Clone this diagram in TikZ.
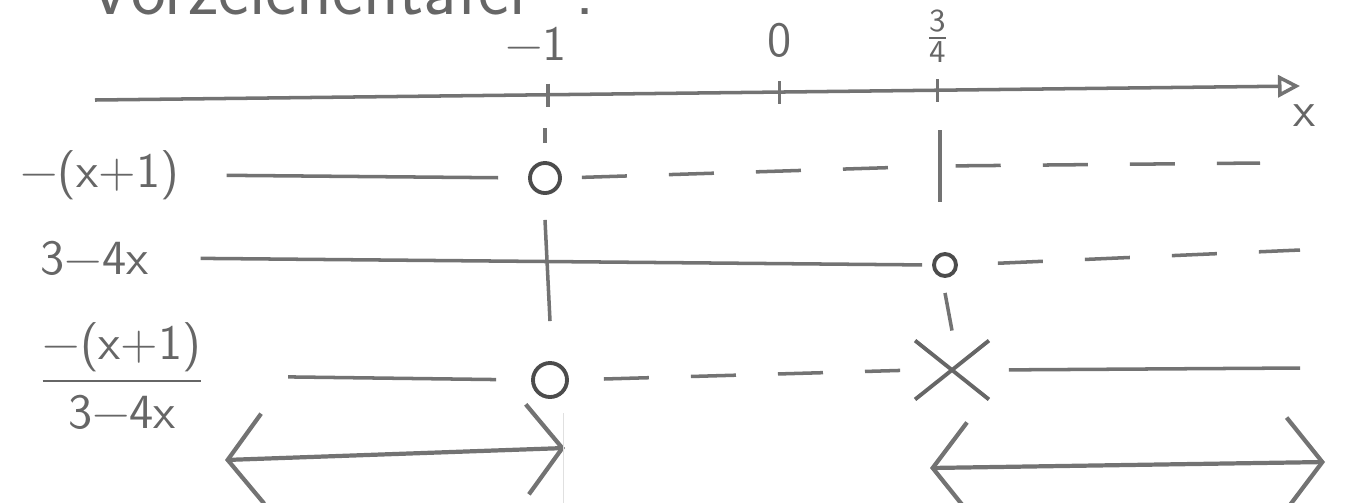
\documentclass[tikz,border=0pt]{standalone}
\usepackage{fontspec}
\usepackage{amsmath}
\usepackage{tikz}
\usetikzlibrary{arrows.meta,shapes.misc,positioning}

\begin{document}
\begin{tikzpicture}[x=0.01cm, y=-0.01cm, every node/.style={font=\sffamily\fontsize{14}{17}\selectfont, text=black!60}]

    % pencil-like styles
    \tikzset{
        pencil/.style={draw=black!55, line width=1pt},
        dashpart/.style={pencil, dash pattern=on 0.45cm off 0.42cm},
        zeropt/.style={circle, draw=black!70, line width=1.1pt, inner sep=0pt, minimum size=0.3cm},
        pole/.style={cross out, draw=black!60, line width=1.1pt, inner sep=0pt, minimum width=0.7cm, minimum height=0.55cm},
        signbar/.style={inner sep=0pt, minimum width=0pt, minimum height=0.7cm},
        rangearrow/.style={pencil, line width=1.2pt, {Straight Barb[length=0.35cm,width=0.9cm]}-{Straight Barb[length=0.35cm,width=0.9cm]}}
    }

    \useasboundingbox (0,0) rectangle (1360,502);
    \clip (0,0) rectangle (1360,502);

    % heading, cut off at the top edge
    \node[anchor=base west, font=\sffamily\fontsize{21}{24}\selectfont] (title) at (75,14) {Vorzeichentafel\hspace{0.5cm}:};

    % number line
    \coordinate (xstart) at (95,100);
    \coordinate (xend) at (1300,86);
    \draw[pencil, -{Triangle[open,length=0.22cm,width=0.22cm]}] (xstart) -- (xend);
    \node (xlab) at (1305,116) {x};
    \path (xstart) -- (xend)
        coordinate[pos=0.376] (tm1)
        coordinate[pos=0.568] (t0)
        coordinate[pos=0.699] (t34);
    \foreach \t in {tm1,t0,t34}
        \draw[pencil] ([yshift=0.11cm]\t) -- ([yshift=-0.12cm]\t);
    \node[above=0.22cm of tm1, xshift=-0.12cm] (lm1) {−1};
    \node[above=0.22cm of t0] (l0) {0};
    \node[above=0.15cm of t34, font=\sffamily\fontsize{13}{15}\selectfont] (l34) {$\frac{\mathsf{3}}{\mathsf{4}}$};

    % row labels
    \node[anchor=west] (f1) at (8,175) {−(x+1)};
    \node[anchor=west] (f2) at (28,258) {3−4x};
    \node[anchor=west] (q) at (26,376) {$\dfrac{\text{−(x+1)}}{\text{3−4x}}$};

    % markers
    \node[zeropt] (z1) at (545,178) {};
    \node[signbar] (s1) at (940,166) {};
    \node[zeropt, minimum size=0.22cm] (z2) at (945,265) {};
    \node[zeropt, minimum size=0.34cm] (z3) at (550,380) {};
    \node[pole] (p3) at (952,370) {};

    \coordinate (e1) at (1260,163);
    \coordinate (e2) at (1300,250);
    \coordinate (e3) at (1300,368);

    % first row
    \draw[pencil, shorten <=0.35cm, shorten >=0.3cm] (f1.east) -- (z1.west);
    \draw[dashpart, shorten <=0.2cm, shorten >=0.15cm] (z1.east) -- (s1);
    \draw[dashpart, shorten <=0.15cm] (s1) -- (e1);
    \draw[pencil, line width=1.4pt] (s1.north) -- (s1.south);
    \draw[pencil] ([yshift=0.18cm]z1.north) -- ++(0,-15);

    % second row
    \draw[pencil, shorten <=0.4cm, shorten >=0.1cm] (f2.east) -- (z2.west);
    \draw[dashpart, shorten <=0.4cm] (z2.east) -- (e2);
    \draw[pencil] ([yshift=-0.25cm]z1.south) -- ([yshift=0.4cm]z3.north);
    \draw[pencil] ([yshift=-0.15cm]z2.south) -- ([yshift=0.1cm]p3.north);

    % quotient row
    \draw[pencil, shorten <=0.7cm, shorten >=0.35cm] (q.east) -- (z3.west);
    \draw[dashpart, shorten <=0.35cm, shorten >=0.15cm] (z3.east) -- (p3.west);
    \draw[pencil, shorten <=0.2cm] (p3.east) -- (e3);

    % solution ranges
    \coordinate (l1) at (225,460);
    \coordinate (l2) at (565,448);
    \coordinate (r1) at (930,468);
    \coordinate (r2) at (1325,462);
    \draw[rangearrow] (l1) -- (l2);
    \draw[rangearrow] (r1) -- (r2);
    \draw[draw=black!12] ([yshift=-0.2cm]z3.south east) -- ++(0,95);

\end{tikzpicture}
\end{document}
